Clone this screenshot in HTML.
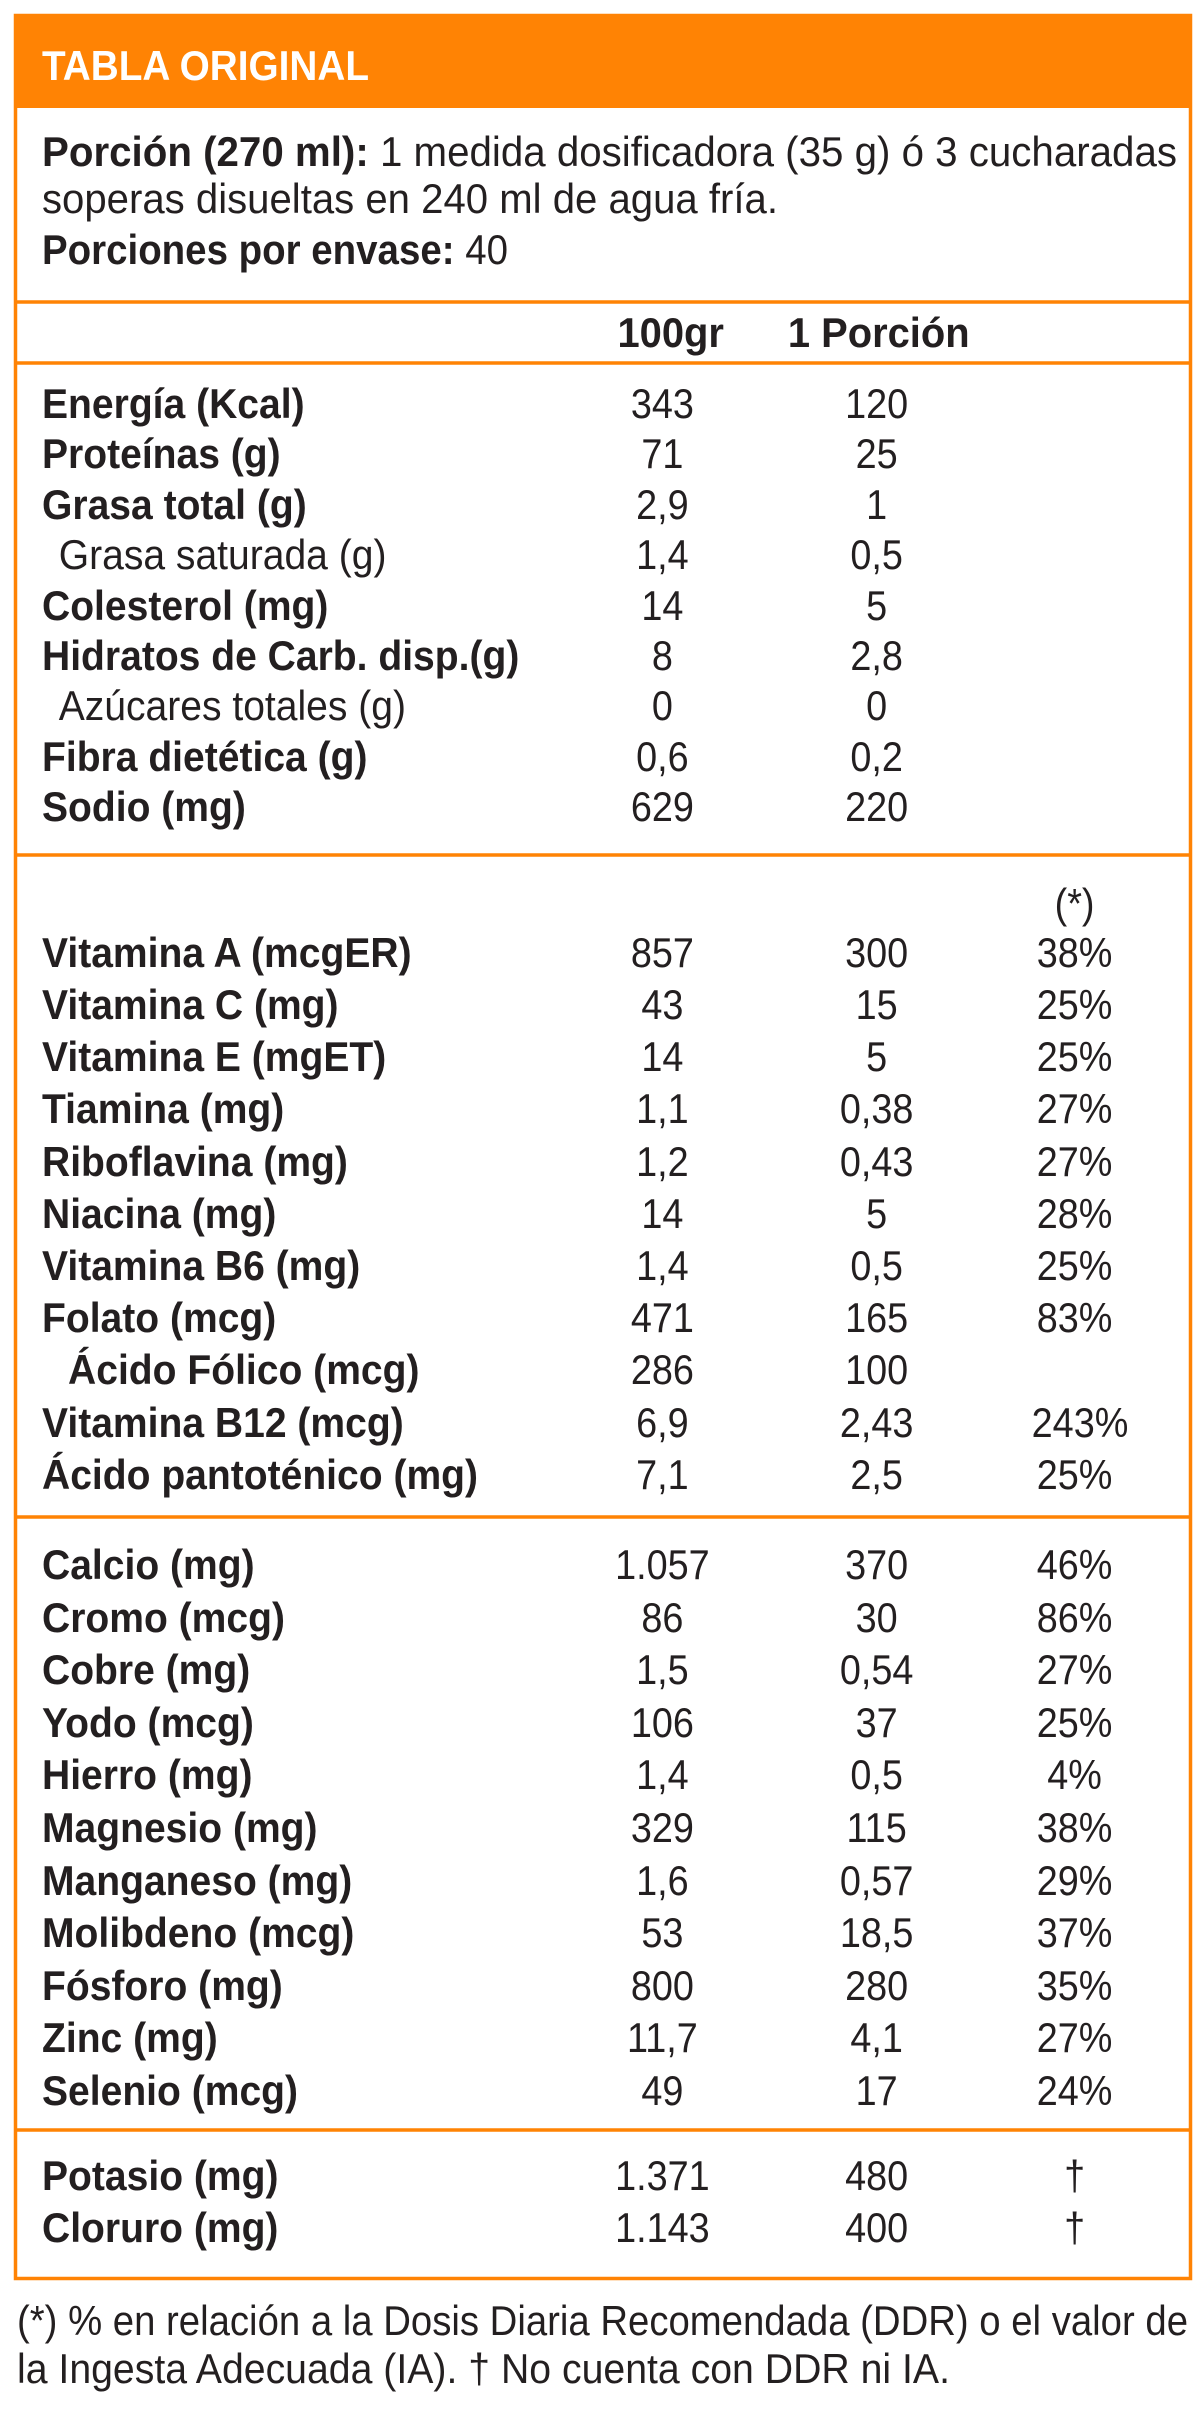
<!DOCTYPE html>
<html><head><meta charset="utf-8"><style>
html,body{margin:0;padding:0;background:#fff;}
svg{display:block;}
text{font-family:"Liberation Sans",sans-serif;fill:#231f20;font-size:42px;}
.b{font-weight:bold;}
</style></head><body>
<svg width="1200" height="2419" viewBox="0 0 1200 2419" xmlns="http://www.w3.org/2000/svg">
<rect x="15.5" y="15.5" width="1175" height="2263" fill="none" stroke="#ff8304" stroke-width="3.5"/>
<rect x="14" y="14" width="1178" height="94" fill="#ff8304"/>
<line x1="14" y1="302" x2="1192" y2="302" stroke="#ff8304" stroke-width="3.5"/>
<line x1="14" y1="363" x2="1192" y2="363" stroke="#ff8304" stroke-width="3.5"/>
<line x1="14" y1="855" x2="1192" y2="855" stroke="#ff8304" stroke-width="3.5"/>
<line x1="14" y1="1517" x2="1192" y2="1517" stroke="#ff8304" stroke-width="3.5"/>
<line x1="14" y1="2130" x2="1192" y2="2130" stroke="#ff8304" stroke-width="3.5"/>

<text x="42" y="80" class="b" style="fill:#fff;font-size:42px" textLength="327" lengthAdjust="spacingAndGlyphs">TABLA ORIGINAL</text>

<text x="42" y="166" textLength="1135" lengthAdjust="spacingAndGlyphs"><tspan class="b">Porción (270 ml):</tspan>  1 medida dosificadora (35 g) ó 3 cucharadas</text>
<text x="42" y="213" textLength="736" lengthAdjust="spacingAndGlyphs">soperas disueltas en 240 ml de agua fría.</text>
<text x="42" y="264" textLength="466" lengthAdjust="spacingAndGlyphs"><tspan class="b">Porciones por envase:</tspan> 40</text>

<g transform="scale(0.95,1)" text-anchor="middle">
<text class="b" x="706" y="347">100gr</text>
<text class="b" x="925" y="347">1 Porción</text>
</g>

<!-- Section 1 -->
<g transform="translate(42,0) scale(0.93,1)">
<text class="b" x="0" y="418">Energía (Kcal)</text>
<text class="b" x="0" y="468">Proteínas (g)</text>
<text class="b" x="0" y="519">Grasa total (g)</text>
<text x="18" y="569">Grasa saturada (g)</text>
<text class="b" x="0" y="620">Colesterol (mg)</text>
<text class="b" x="0" y="670">Hidratos de Carb. disp.(g)</text>
<text x="18" y="720">Azúcares totales (g)</text>
<text class="b" x="0" y="771">Fibra dietética (g)</text>
<text class="b" x="0" y="821">Sodio (mg)</text>
</g>
<g transform="scale(0.9,1)" text-anchor="middle">
<text x="736" y="418">343</text><text x="974" y="418">120</text>
<text x="736" y="468">71</text><text x="974" y="468">25</text>
<text x="736" y="519">2,9</text><text x="974" y="519">1</text>
<text x="736" y="569">1,4</text><text x="974" y="569">0,5</text>
<text x="736" y="620">14</text><text x="974" y="620">5</text>
<text x="736" y="670">8</text><text x="974" y="670">2,8</text>
<text x="736" y="720">0</text><text x="974" y="720">0</text>
<text x="736" y="771">0,6</text><text x="974" y="771">0,2</text>
<text x="736" y="821">629</text><text x="974" y="821">220</text>
</g>

<!-- Section 2 -->
<g transform="translate(42,0) scale(0.93,1)">
<text class="b" x="0" y="967">Vitamina A (mcgER)</text>
<text class="b" x="0" y="1019">Vitamina C (mg)</text>
<text class="b" x="0" y="1071">Vitamina E (mgET)</text>
<text class="b" x="0" y="1123">Tiamina (mg)</text>
<text class="b" x="0" y="1176">Riboflavina (mg)</text>
<text class="b" x="0" y="1228">Niacina (mg)</text>
<text class="b" x="0" y="1280">Vitamina B6 (mg)</text>
<text class="b" x="0" y="1332">Folato (mcg)</text>
<text class="b" x="28" y="1384">Ácido Fólico (mcg)</text>
<text class="b" x="0" y="1437">Vitamina B12 (mcg)</text>
<text class="b" x="0" y="1489">Ácido pantoténico (mg)</text>
</g>
<g transform="scale(0.9,1)" text-anchor="middle">
<text x="1194" y="918">(*)</text>
<text x="736" y="967">857</text><text x="974" y="967">300</text><text x="1194" y="967">38%</text>
<text x="736" y="1019">43</text><text x="974" y="1019">15</text><text x="1194" y="1019">25%</text>
<text x="736" y="1071">14</text><text x="974" y="1071">5</text><text x="1194" y="1071">25%</text>
<text x="736" y="1123">1,1</text><text x="974" y="1123">0,38</text><text x="1194" y="1123">27%</text>
<text x="736" y="1176">1,2</text><text x="974" y="1176">0,43</text><text x="1194" y="1176">27%</text>
<text x="736" y="1228">14</text><text x="974" y="1228">5</text><text x="1194" y="1228">28%</text>
<text x="736" y="1280">1,4</text><text x="974" y="1280">0,5</text><text x="1194" y="1280">25%</text>
<text x="736" y="1332">471</text><text x="974" y="1332">165</text><text x="1194" y="1332">83%</text>
<text x="736" y="1384">286</text><text x="974" y="1384">100</text>
<text x="736" y="1437">6,9</text><text x="974" y="1437">2,43</text><text x="1200" y="1437">243%</text>
<text x="736" y="1489">7,1</text><text x="974" y="1489">2,5</text><text x="1194" y="1489">25%</text>
</g>

<!-- Section 3 -->
<g transform="translate(42,0) scale(0.93,1)">
<text class="b" x="0" y="1579">Calcio (mg)</text>
<text class="b" x="0" y="1632">Cromo (mcg)</text>
<text class="b" x="0" y="1684">Cobre (mg)</text>
<text class="b" x="0" y="1737">Yodo (mcg)</text>
<text class="b" x="0" y="1789">Hierro (mg)</text>
<text class="b" x="0" y="1842">Magnesio (mg)</text>
<text class="b" x="0" y="1895">Manganeso (mg)</text>
<text class="b" x="0" y="1947">Molibdeno (mcg)</text>
<text class="b" x="0" y="2000">Fósforo (mg)</text>
<text class="b" x="0" y="2052">Zinc (mg)</text>
<text class="b" x="0" y="2105">Selenio (mcg)</text>
</g>
<g transform="scale(0.9,1)" text-anchor="middle">
<text x="736" y="1579">1.057</text><text x="974" y="1579">370</text><text x="1194" y="1579">46%</text>
<text x="736" y="1632">86</text><text x="974" y="1632">30</text><text x="1194" y="1632">86%</text>
<text x="736" y="1684">1,5</text><text x="974" y="1684">0,54</text><text x="1194" y="1684">27%</text>
<text x="736" y="1737">106</text><text x="974" y="1737">37</text><text x="1194" y="1737">25%</text>
<text x="736" y="1789">1,4</text><text x="974" y="1789">0,5</text><text x="1194" y="1789">4%</text>
<text x="736" y="1842">329</text><text x="974" y="1842">115</text><text x="1194" y="1842">38%</text>
<text x="736" y="1895">1,6</text><text x="974" y="1895">0,57</text><text x="1194" y="1895">29%</text>
<text x="736" y="1947">53</text><text x="974" y="1947">18,5</text><text x="1194" y="1947">37%</text>
<text x="736" y="2000">800</text><text x="974" y="2000">280</text><text x="1194" y="2000">35%</text>
<text x="736" y="2052">11,7</text><text x="974" y="2052">4,1</text><text x="1194" y="2052">27%</text>
<text x="736" y="2105">49</text><text x="974" y="2105">17</text><text x="1194" y="2105">24%</text>
</g>

<!-- Section 4 -->
<g transform="translate(42,0) scale(0.93,1)">
<text class="b" x="0" y="2190">Potasio (mg)</text>
<text class="b" x="0" y="2242">Cloruro (mg)</text>
</g>
<g transform="scale(0.9,1)" text-anchor="middle">
<text x="736" y="2190">1.371</text><text x="974" y="2190">480</text><text x="1194" y="2190">†</text>
<text x="736" y="2242">1.143</text><text x="974" y="2242">400</text><text x="1194" y="2242">†</text>
</g>

<text x="17" y="2335" textLength="1171" lengthAdjust="spacingAndGlyphs">(*) % en relación a la Dosis Diaria Recomendada (DDR) o el valor de</text>
<text x="17" y="2383" textLength="933" lengthAdjust="spacingAndGlyphs">la Ingesta Adecuada (IA). † No cuenta con DDR ni IA.</text>
</svg>
</body></html>
